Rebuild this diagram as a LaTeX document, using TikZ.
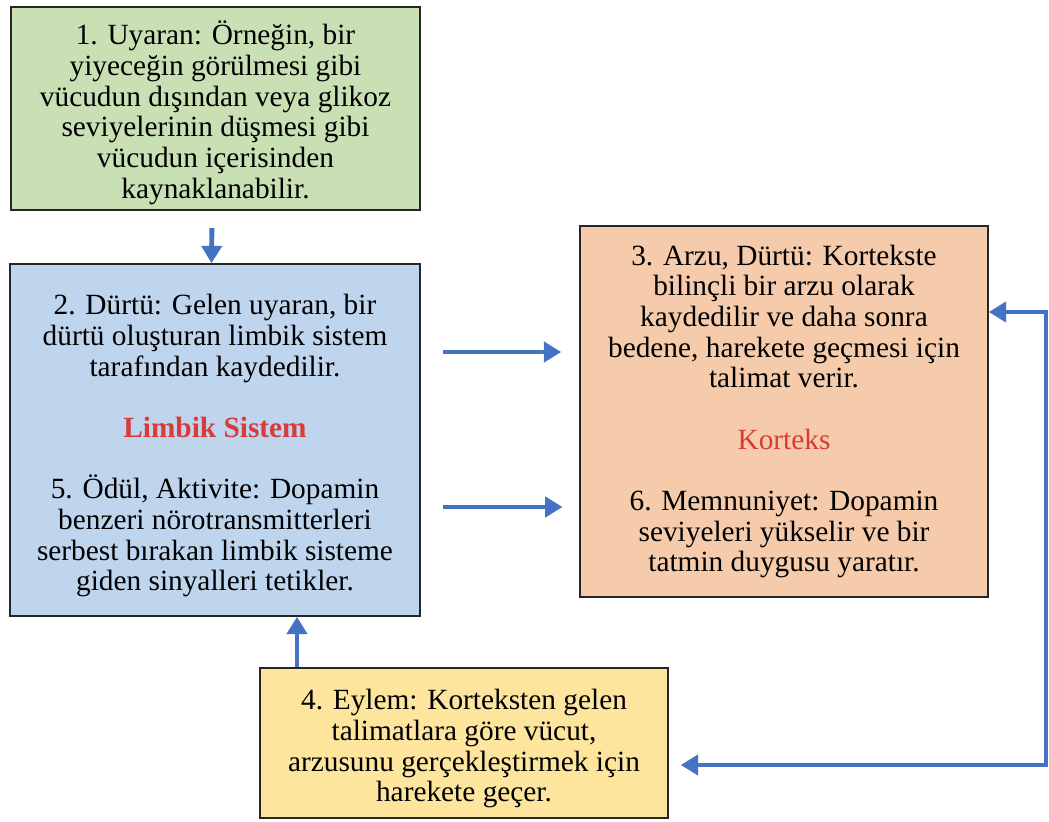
\documentclass[tikz,border=0pt]{standalone}
\usepackage{fontspec}
\setmainfont{Liberation Serif}
\usetikzlibrary{arrows.meta}

\definecolor{boxgreen}{HTML}{C9E0B5}
\definecolor{boxblue}{HTML}{BFD5EE}
\definecolor{boxpeach}{HTML}{F6CBAB}
\definecolor{boxyellow}{HTML}{FDE59E}
\definecolor{flowblue}{HTML}{4472C4}
\definecolor{labelred}{HTML}{D93A3A}

% strut that pushes a text block slightly down inside its box
\newcommand{\topgap}{\rule{0pt}{24pt}}

\tikzset{
  stagebox/.style={draw=black!85, line width=1.2pt, align=center,
    font=\fontsize{22}{23}\selectfont, inner sep=0pt},
  flow/.style={draw=flowblue, line width=3.7pt,
    -{Triangle[length=13pt,width=15pt]}},
  twoflow/.style={draw=flowblue, line width=3.2pt,
    {Triangle[length=13pt,width=15pt]}-{Triangle[length=13pt,width=15pt]}},
}

\begin{document}
\begin{tikzpicture}[x=0.75pt,y=-0.75pt]
  \useasboundingbox (0,0) rectangle (1049,821);

  % stage 1: stimulus
  \node[stagebox, fill=boxgreen, minimum width=306.75pt, minimum height=152.25pt]
    (b1) at (215.5,108.5)
    {\topgap 1. Uyaran: Örneğin, bir\\ yiyeceğin görülmesi gibi\\ vücudun dışından veya glikoz\\
     seviyelerinin düşmesi gibi\\ vücudun içerisinden\\ kaynaklanabilir.};

  % limbic system (stages 2 and 5)
  \node[stagebox, fill=boxblue, minimum width=307.5pt, minimum height=264pt]
    (b2) at (215,440)
    {\topgap 2. Dürtü: Gelen uyaran, bir\\ dürtü oluşturan limbik sistem\\ tarafından kaydedilir.\\[23pt]
     \textcolor{labelred}{\textbf{Limbik Sistem}}\\[23pt]
     5. Ödül, Aktivite: Dopamin\\ benzeri nörotransmitterleri\\ serbest bırakan limbik sisteme\\
     giden sinyalleri tetikler.};

  % cortex (stages 3 and 6)
  \node[stagebox, fill=boxpeach, minimum width=306pt, minimum height=278.25pt]
    (b3) at (784,411.5)
    {3. Arzu, Dürtü: Kortekste\\ bilinçli bir arzu olarak\\ kaydedilir ve daha sonra\\
     bedene, harekete geçmesi için\\ talimat verir.\\[23pt]
     \textcolor{labelred}{Korteks}\\[23pt]
     6. Memnuniyet: Dopamin\\ seviyeleri yükselir ve bir\\ tatmin duygusu yaratır.};

  % stage 4: action
  \node[stagebox, fill=boxyellow, minimum width=306pt, minimum height=112.5pt]
    (b4) at (464,743)
    {\topgap 4. Eylem: Korteksten gelen\\ talimatlara göre vücut,\\ arzusunu gerçekleştirmek için\\
     harekete geçer.};

  % connectors
  \draw[flow, shorten <=13pt] ([xshift=-2.6pt]b1.south) -- ([xshift=-2.6pt]b2.north);
  \draw[flow, shorten <=16.5pt, shorten >=13.5pt] (b2.east |- 0,352) -- (b3.west |- 0,352);
  \draw[flow, shorten <=16.5pt, shorten >=12.5pt] (b2.east |- 0,507) -- (b3.west |- 0,507);
  \draw[flow] (b4.north -| 297,0) -- (b2.south -| 297,0);

  \coordinate (loop) at (1046,765);
  \draw[twoflow, shorten >=9pt, line join=miter]
    (b3.east |- 0,312) -| (loop) -- (b4.east |- loop);
\end{tikzpicture}
\end{document}
